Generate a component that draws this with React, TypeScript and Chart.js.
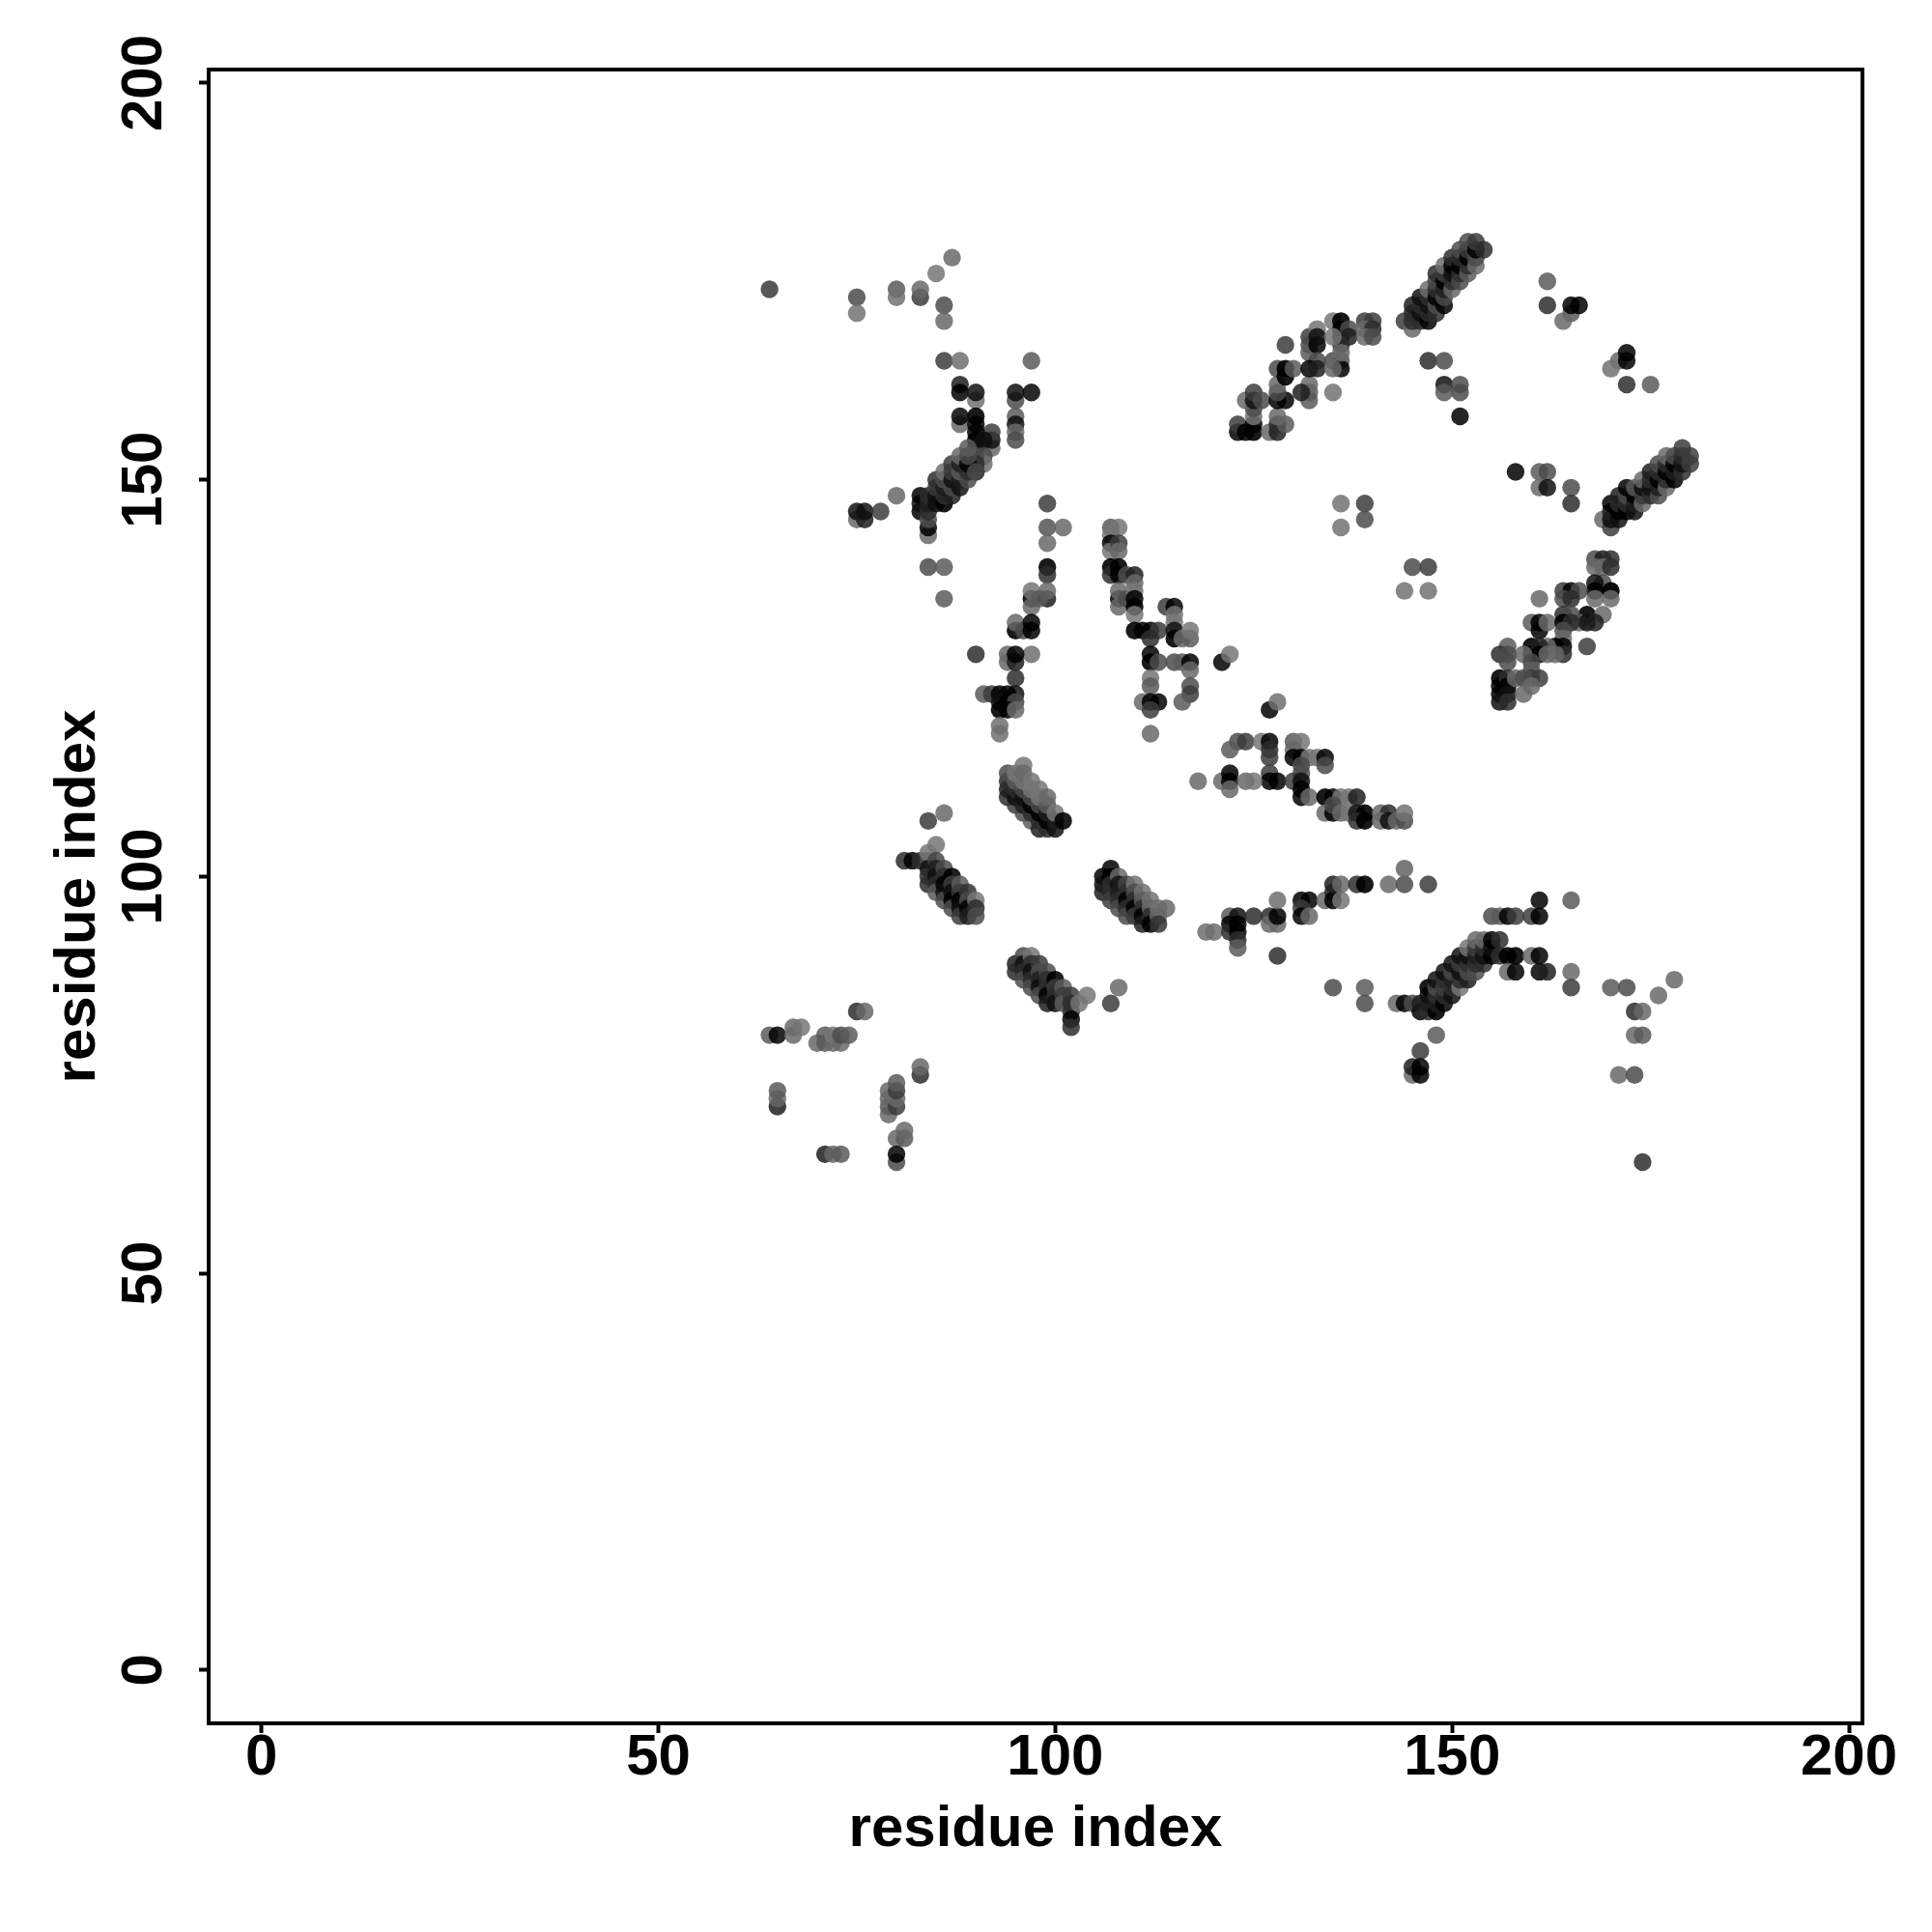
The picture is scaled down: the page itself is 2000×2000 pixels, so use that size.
import { useEffect, useRef } from "react";
import { Chart, registerables } from "chart.js";

Chart.register(...registerables);

type P = number[];
const tickValues = [0, 50, 100, 150, 200];
const axisLabel = "residue index";
const xAxisMin = -6.66;
const xAxisMax = 201.7;
const yAxisMin = -6.73;
const yAxisMax = 201.7;

const scatteredUpperLeft: P[] = [
  [64,174,.66],[75,173,.6],[75,171,.47],[80,174,.55],[80,173,.47],[83,173,.65],[83,174,.5],[85,176,.46],[87,178,.5],
  [86,172,.6],[86,170,.5],[86,165,.65],[88,165,.48],[97,165,.55],[75,145,.5],[75,146,.8],[76,145,.75],[76,146,.8],
  [78,146,.65],[80,148,.5],[84,139,.6],[86,139,.55],[86,135,.55],
];
const helixUpperLeft: P[] = [
  [88,162,.75],[88,161,.85],[90,160,.47],[90,161,.8],[95,160,.6],[95,161,.8],[97,161,.84],[88,157,.5],[88,158,.84],
  [90,158,.9],[90,157,.85],[95,158,.55],[95,157,.8],[95,156,.5],[95,155,.6],[92,154,.5],[92,155,.8],[92,156,.65],
  [90,156,.85],[90,155,.9],[91,155,.8],[90,154,.8],[91,153,.6],[91,152,.48],[90,153,.6],[90,152,.7],[90,151,.8],
];
const sheetUpperLeft: P[] = [
  [83,146,.85],[83,147,.8],[83,148,.85],[84,143,.5],[84,144,.85],[84,145,.6],[84,146,.7],[84,147,.75],[84,148,.7],
  [85,147,.8],[85,148,.8],[85,149,.65],[85,150,.7],[86,147,.9],[86,148,.7],[86,149,.75],[86,150,.6],[86,151,.48],
  [87,148,.75],[87,149,.6],[87,150,.8],[87,151,.65],[87,152,.65],[88,149,.8],[88,150,.75],[88,151,.55],[88,152,.75],[88,153,.5],
  [89,150,.6],[89,151,.7],[89,152,.85],[89,153,.6],[89,154,.55],[90,151,.6],
];
const columnNearNinetyNine: P[] = [
  [99,147,.65],[99,144,.57],[101,144,.5],[99,142,.5],[99,139,.9],[99,138,.7],[99,135,.75],[99,136,.5],
  [97,135,.9],[97,134,.5],[97,136,.46],[98,135,.55],[95,131,.9],[95,132,.5],[96,131,.6],[97,131,.85],[97,132,.85],
  [90,128,.7],[97,128,.48],[94,127,.5],[94,128,.5],[95,127,.75],[95,128,.85],[95,125,.7],[95,123,.8],
  [91,123,.55],[92,123,.65],[93,123,.85],[94,123,.85],[93,122,.8],[94,122,.9],[95,122,.6],[93,121,.9],[94,121,.85],[95,121,.5],
  [93,119,.48],[93,118,.48],
];
const columnNearHundredSeven: P[] = [
  [107,144,.55],[108,144,.46],[107,143,.46],[107,142,.85],[107,141,.46],[108,142,.65],[108,141,.5],
  [107,139,.9],[107,138,.7],[108,139,.9],[108,138,.85],[109,138,.6],[108,135,.85],[108,136,.5],[108,134,.5],[109,135,.6],
  [110,138,.75],[110,137,.5],[110,136,.46],[110,135,.85],[110,134,.9],[110,133,.46],[110,131,.9],[111,131,.85],[112,131,.85],
  [113,131,.65],[112,130,.7],[114,134,.65],[115,134,.85],[115,133,.46],[115,132,.46],[115,131,.8],[115,130,.9],
  [116,130,.5],[117,130,.55],[117,131,.46],[112,128,.85],[112,127,.9],[113,127,.6],[115,127,.6],[116,127,.55],[117,127,.85],
  [117,126,.5],[117,124,.6],[117,123,.65],[116,122,.55],[112,125,.46],[112,124,.55],[111,122,.5],[112,122,.85],[113,122,.85],
  [112,121,.65],[112,118,.5],[121,127,.85],[122,128,.46],
];
const middleRun: P[] = [
  [127,121,.85],[128,122,.48],[123,117,.6],[124,117,.65],[122,116,.55],[126,117,.46],[127,117,.85],[127,116,.7],[127,115,.65],
  [127,113,.65],[127,112,.85],[128,112,.85],[118,112,.5],[121,112,.5],[122,113,.85],[122,112,.85],[122,111,.5],[124,112,.5],[125,112,.46],
  [130,117,.55],[131,117,.46],[130,116,.5],[130,115,.85],[131,115,.85],[132,115,.46],[133,115,.46],[134,115,.85],[134,114,.6],
  [131,114,.6],[131,113,.6],[130,112,.65],[131,112,.8],[131,111,.85],[131,110,.85],[132,110,.5],[134,110,.9],[135,110,.85],
  [136,110,.46],[137,110,.46],[138,110,.75],[134,108,.5],[135,108,.85],[135,109,.6],[136,108,.5],[137,108,.46],[138,108,.8],
  [139,108,.9],[138,107,.7],[139,107,.9],[141,108,.5],[142,108,.7],[141,107,.5],[142,107,.8],[143,107,.5],[144,107,.6],[144,108,.47],
];
const stripAboveHundred: P[] = [
  [94,110,.7],[94,111,.75],[94,112,.7],[94,113,.6],[95,109,.65],[95,110,.8],[95,111,.7],[95,112,.55],[95,113,.46],
  [96,108,.6],[96,109,.75],[96,110,.8],[96,111,.6],[96,112,.46],[96,114,.46],[96,113,.5],[97,107,.55],[97,108,.7],[97,109,.85],
  [97,110,.6],[97,111,.46],[97,112,.46],[98,106,.75],[98,107,.7],[98,108,.85],[98,109,.6],[98,110,.46],[98,111,.46],
  [99,106,.7],[99,107,.85],[99,108,.75],[99,109,.55],[99,110,.5],[100,106,.8],[100,107,.75],[100,108,.46],[101,107,.88],
];
const stripA: P[] = [
  [81,102,.7],[82,102,.85],[83,102,.7],[84,102,.6],[84,103,.46],[85,104,.46],[84,101,.8],[84,100,.7],[84,99,.7],
  [85,102,.62],[85,101,.75],[85,100,.8],[85,99,.7],[85,98,.55],[86,101,.6],[86,100,.7],[86,99,.85],[86,98,.8],[86,97,.6],
  [87,100,.88],[87,99,.65],[87,98,.8],[87,97,.85],[87,96,.6],[88,99,.55],[88,98,.65],[88,97,.85],[88,96,.8],[88,95,.65],
  [89,98,.68],[89,97,.6],[89,96,.85],[89,95,.75],[90,97,.46],[90,96,.7],[90,95,.6],[84,107,.65],[86,108,.5],
];
const stripB: P[] = [
  [106,100,.85],[106,99,.8],[106,98,.75],[107,101,.85],[107,100,.85],[107,99,.7],[107,98,.7],[107,97,.65],[108,100,.5],
  [108,99,.8],[108,98,.75],[108,97,.7],[108,96,.6],[109,99,.62],[109,98,.7],[109,97,.85],[109,96,.7],[109,95,.6],
  [110,99,.47],[110,98,.6],[110,97,.7],[110,96,.85],[110,95,.65],[111,98,.47],[111,97,.55],[111,96,.7],[111,95,.85],[111,94,.75],
  [112,97,.47],[112,96,.5],[112,95,.7],[112,94,.85],[113,96,.47],[113,95,.5],[113,94,.68],[114,96,.5],
];
const stripC: P[] = [
  [95,89,.75],[95,88,.7],[96,90,.6],[96,89,.8],[96,88,.7],[96,87,.6],[97,90,.46],[97,89,.7],[97,88,.8],[97,87,.7],[97,86,.6],
  [98,89,.65],[98,88,.6],[98,87,.75],[98,86,.8],[98,85,.6],[99,88,.6],[99,87,.7],[99,86,.7],[99,85,.85],[99,84,.75],
  [100,87,.88],[100,86,.65],[100,85,.7],[100,84,.8],[101,86,.55],[101,85,.65],[101,84,.55],[102,85,.65],[102,84,.7],[102,83,.7],
  [102,82,.85],[102,81,.7],[103,84,.46],[104,85,.46],[107,84,.65],[108,86,.5],
];
const lowerRun: P[] = [
  [119,93,.48],[120,93,.48],[122,95,.55],[122,94,.85],[122,93,.7],[123,95,.8],[123,94,.85],[123,93,.85],[123,92,.7],[123,91,.55],
  [125,95,.7],[127,95,.7],[127,94,.5],[128,94,.5],[128,95,.85],[128,97,.48],[128,90,.7],[131,97,.85],[132,97,.85],[131,96,.65],
  [131,95,.85],[132,95,.5],[134,97,.5],[135,98,.7],[135,97,.85],[136,97,.46],[135,99,.75],[136,99,.5],[138,99,.7],[139,99,.9],
  [142,99,.5],[144,99,.6],[144,101,.52],[147,99,.65],[135,86,.6],[139,86,.55],[139,84,.6],
];
const lowerArch: P[] = [
  [143,84,.5],[144,84,.85],[145,84,.6],[146,83,.85],[146,84,.75],[147,83,.7],[147,84,.75],[147,85,.8],[147,86,.9],
  [148,83,.9],[148,84,.75],[148,85,.7],[148,86,.6],[148,87,.8],[149,84,.85],[149,85,.7],[149,86,.65],[149,87,.7],[149,88,.8],
  [150,85,.8],[150,86,.7],[150,87,.75],[150,88,.6],[150,89,.8],[151,86,.46],[151,87,.7],[151,88,.8],[151,89,.65],[151,90,.8],
  [152,87,.75],[152,88,.6],[152,89,.7],[152,90,.8],[152,91,.46],[153,88,.6],[153,89,.7],[153,90,.75],[153,91,.65],[153,92,.5],
  [154,89,.7],[154,90,.8],[154,91,.7],[154,92,.5],[155,90,.85],[155,91,.8],[155,92,.85],[156,90,.7],[156,92,.7],
  [157,90,.9],[158,90,.9],[160,90,.5],[161,90,.85],[157,88,.5],[158,88,.85],[161,88,.85],[162,88,.75],
  [155,95,.6],[156,95,.55],[157,95,.85],[158,95,.65],[160,95,.65],[161,95,.85],[161,97,.85],[165,97,.55],[165,88,.5],[165,86,.65],
  [170,86,.55],[172,86,.6],[178,87,.5],[176,85,.5],[173,83,.7],[174,83,.5],[173,80,.5],[174,80,.55],[171,75,.5],[173,75,.6],[174,64,.7],
  [148,80,.55],[146,78,.65],[145,75,.5],[145,76,.75],[146,75,.85],[146,76,.85],
];
const lowerLeftCluster: P[] = [
  [64,80,.55],[65,80,.85],[67,80,.5],[67,81,.5],[68,81,.46],[70,79,.5],[71,79,.55],[71,80,.55],[72,79,.5],[72,80,.46],
  [73,79,.5],[73,80,.6],[74,80,.55],[75,83,.7],[76,83,.5],[83,75,.7],[83,76,.5],[65,71,.75],[65,72,.5],[65,73,.55],
  [79,70,.5],[79,71,.55],[79,72,.5],[79,73,.5],[80,71,.65],[80,72,.5],[80,73,.65],[80,74,.55],[80,67,.5],[81,67,.55],[81,68,.5],
  [80,64,.6],[80,65,.85],[71,65,.75],[72,65,.5],[73,65,.55],
];
const upperRightSingles: P[] = [
  [162,175,.55],[162,172,.7],[165,171,.55],[164,170,.5],[165,172,.85],[166,172,.85],[171,165,.5],[170,164,.47],[172,166,.85],[172,165,.85],
  [172,162,.7],[175,162,.55],[147,165,.7],[149,165,.6],[149,162,.8],[149,161,.55],[151,162,.6],[151,161,.6],[151,158,.85],
  [158,151,.85],[161,151,.55],[162,151,.6],[161,149,.5],[162,149,.8],[165,149,.6],[165,147,.7],[136,147,.47],[139,147,.65],
  [139,145,.6],[136,144,.47],[145,139,.6],[147,139,.65],[144,136,.47],[147,136,.47],
];
const topBand: P[] = [
  [144,170,.65],[145,169,.5],[145,170,.7],[145,171,.7],[145,172,.75],[146,170,.7],[146,171,.8],[146,172,.7],[146,173,.8],
  [147,170,.85],[147,171,.7],[147,172,.8],[147,173,.7],[147,174,.48],[148,171,.7],[148,172,.6],[148,173,.85],[148,174,.7],[148,175,.6],[148,176,.7],
  [149,172,.85],[149,173,.6],[149,174,.75],[149,175,.85],[149,176,.65],[149,177,.48],[150,174,.5],[150,175,.7],[150,176,.8],[150,177,.85],[150,178,.7],
  [151,175,.6],[151,176,.7],[151,177,.85],[151,178,.7],[151,179,.6],[152,176,.55],[152,177,.7],[152,178,.85],[152,179,.65],[152,180,.6],
  [153,177,.5],[153,178,.6],[153,179,.85],[153,180,.65],[154,179,.7],
];
const bandNearHundredThirty: P[] = [
  [123,156,.85],[123,157,.65],[124,156,.85],[125,156,.9],[125,157,.85],[125,158,.47],[125,159,.6],[124,160,.5],[125,160,.8],[125,161,.65],[126,160,.6],
  [127,156,.5],[128,156,.75],[128,157,.7],[129,157,.55],[128,158,.5],[128,160,.85],[129,160,.85],[128,161,.6],[128,162,.5],[128,164,.6],[129,164,.9],
  [129,163,.9],[130,164,.55],[129,167,.65],[132,161,.55],[132,160,.55],[132,162,.5],[131,161,.75],[135,161,.47],[132,168,.65],[132,167,.6],[132,166,.55],
  [133,169,.46],[133,167,.85],[133,168,.8],[133,165,.6],[132,164,.85],[133,164,.75],[135,170,.46],[136,170,.9],[136,169,.85],[136,168,.9],[137,169,.6],
  [137,168,.75],[136,167,.7],[135,168,.46],[135,165,.6],[136,165,.55],[136,164,.85],[135,164,.5],[136,166,.5],[139,170,.65],[140,170,.65],[139,169,.5],
  [140,169,.7],[139,168,.5],[140,168,.6],
];
const lowerRightBand: P[] = [
  [169,145,.5],[170,144,.65],[170,145,.8],[170,146,.75],[170,147,.85],[171,145,.8],[171,146,.85],[171,147,.7],[171,148,.75],
  [172,146,.85],[172,147,.7],[172,148,.6],[172,149,.85],[173,146,.8],[173,147,.75],[173,148,.85],[173,149,.55],[174,147,.5],[174,148,.65],[174,149,.8],[174,150,.5],
  [175,148,.7],[175,149,.8],[175,150,.7],[175,151,.75],[176,148,.6],[176,149,.75],[176,150,.85],[176,151,.7],[176,152,.6],
  [177,149,.5],[177,150,.7],[177,151,.85],[177,152,.7],[177,153,.5],[178,150,.85],[178,151,.75],[178,152,.85],[178,153,.6],
  [179,151,.7],[179,152,.8],[179,153,.7],[179,154,.65],[180,152,.65],[180,153,.65],
];
const bandNearHundredSixty: P[] = [
  [168,140,.6],[169,140,.75],[170,140,.7],[168,139,.5],[169,139,.5],[170,139,.7],[169,137,.6],[168,137,.8],[170,136,.95],[168,136,.9],[170,135,.5],[168,135,.5],
  [161,135,.5],[164,136,.65],[165,136,.85],[166,136,.6],[164,135,.6],[165,135,.7],[167,133,.9],[169,133,.5],[166,132,.5],[167,132,.8],[168,132,.75],
  [160,132,.55],[161,132,.85],[161,131,.85],[162,132,.5],[164,133,.7],[165,133,.6],[164,132,.9],[165,132,.7],[164,131,.6],[164,130,.5],[163,129,.9],[164,129,.85],
  [164,128,.7],[163,128,.5],[162,129,.5],[167,129,.65],[160,129,.9],[160,128,.9],[161,129,.75],[161,128,.85],[162,128,.5],[159,128,.5],[157,129,.55],[156,128,.7],
  [157,128,.6],[157,127,.6],[160,127,.6],[160,126,.55],[156,125,.9],[156,124,.85],[157,125,.7],[157,124,.85],[158,125,.5],[160,125,.65],[161,125,.65],[159,125,.6],[160,124,.5],
  [156,123,.85],[156,122,.8],[157,123,.8],[157,122,.7],[159,123,.5],
];

const clusters: P[][] = [
  scatteredUpperLeft, helixUpperLeft, sheetUpperLeft, columnNearNinetyNine, columnNearHundredSeven, middleRun,
  stripAboveHundred, stripA, stripB, stripC, lowerRun, lowerArch, lowerLeftCluster, upperRightSingles, topBand,
  bandNearHundredThirty, lowerRightBand, bandNearHundredSixty,
];
const allPoints = clusters.flat();

// Each mark is a grey at 85% opacity; the third number is its darkness over white.
const markColor = (darkness: number) => {
  const opacity = 0.85;
  if (darkness >= opacity) return `rgba(0,0,0,${darkness})`;
  const grey = Math.round((255 * (opacity - darkness)) / opacity);
  return `rgba(${grey},${grey},${grey},${opacity})`;
};

export default function App() {
  const ref = useRef<HTMLCanvasElement>(null);
  useEffect(() => {
    document.body.style.margin = "0";
    const font = "'Liberation Sans', Arial, sans-serif";
    const setTicks = (s: any) => {
      s.ticks = tickValues.map((value) => ({ value, label: String(value) }));
    };
    const framePlugin = {
      id: "frame",
      afterDraw(chart: any) {
        const { ctx, chartArea: a, scales } = chart;
        ctx.save();
        ctx.strokeStyle = "#000";
        ctx.lineWidth = 4;
        ctx.strokeRect(a.left, a.top, a.right - a.left, a.bottom - a.top);
        ctx.fillStyle = "#000";
        ctx.font = `bold 60px ${font}`;
        ctx.textAlign = "center";
        ctx.textBaseline = "middle";
        for (const v of tickValues) {
          ctx.save();
          ctx.translate(150, scales.y.getPixelForValue(v));
          ctx.rotate(-Math.PI / 2);
          ctx.fillText(String(v), 0, 0);
          ctx.restore();
        }
        ctx.restore();
      },
    };
    const chart = new Chart(ref.current!, {
      type: "scatter",
      data: {
        datasets: [
          {
            data: allPoints.map((p) => ({ x: p[0], y: p[1] })),
            pointRadius: 9.2,
            pointBorderWidth: 0,
            pointBackgroundColor: allPoints.map((p) => markColor(p[2])),
          },
        ],
      },
      options: {
        animation: false,
        responsive: false,
        plugins: { legend: { display: false }, tooltip: { enabled: false } },
        layout: { padding: { left: 0, right: 72, top: 72, bottom: 0 } },
        scales: {
          x: {
            type: "linear",
            min: xAxisMin,
            max: xAxisMax,
            afterBuildTicks: setTicks,
            afterFit: (s: any) => { s.height = 216; },
            grid: { drawOnChartArea: false, drawTicks: true, tickLength: 10, tickWidth: 4, tickColor: "#000" },
            border: { display: false },
            ticks: { color: "#000", font: { family: font, size: 60, weight: "bold" }, padding: -10, maxRotation: 0, minRotation: 0, autoSkip: false },
            title: { display: true, text: axisLabel, color: "#000", font: { family: font, size: 60, weight: "bold" }, padding: { top: 0, bottom: 70 } },
          },
          y: {
            type: "linear",
            min: yAxisMin,
            max: yAxisMax,
            afterBuildTicks: setTicks,
            afterFit: (s: any) => { s.width = 216; },
            grid: { drawOnChartArea: false, drawTicks: true, tickLength: 10, tickWidth: 4, tickColor: "#000" },
            border: { display: false },
            ticks: { display: false },
            title: { display: true, text: axisLabel, color: "#000", font: { family: font, size: 60, weight: "bold" }, padding: { top: 45, bottom: 0 } },
          },
        },
      },
      plugins: [framePlugin],
    } as any);
    return () => chart.destroy();
  }, []);
  return <canvas ref={ref} width={2000} height={2000} style={{ display: "block", background: "#fff" }} />;
}
